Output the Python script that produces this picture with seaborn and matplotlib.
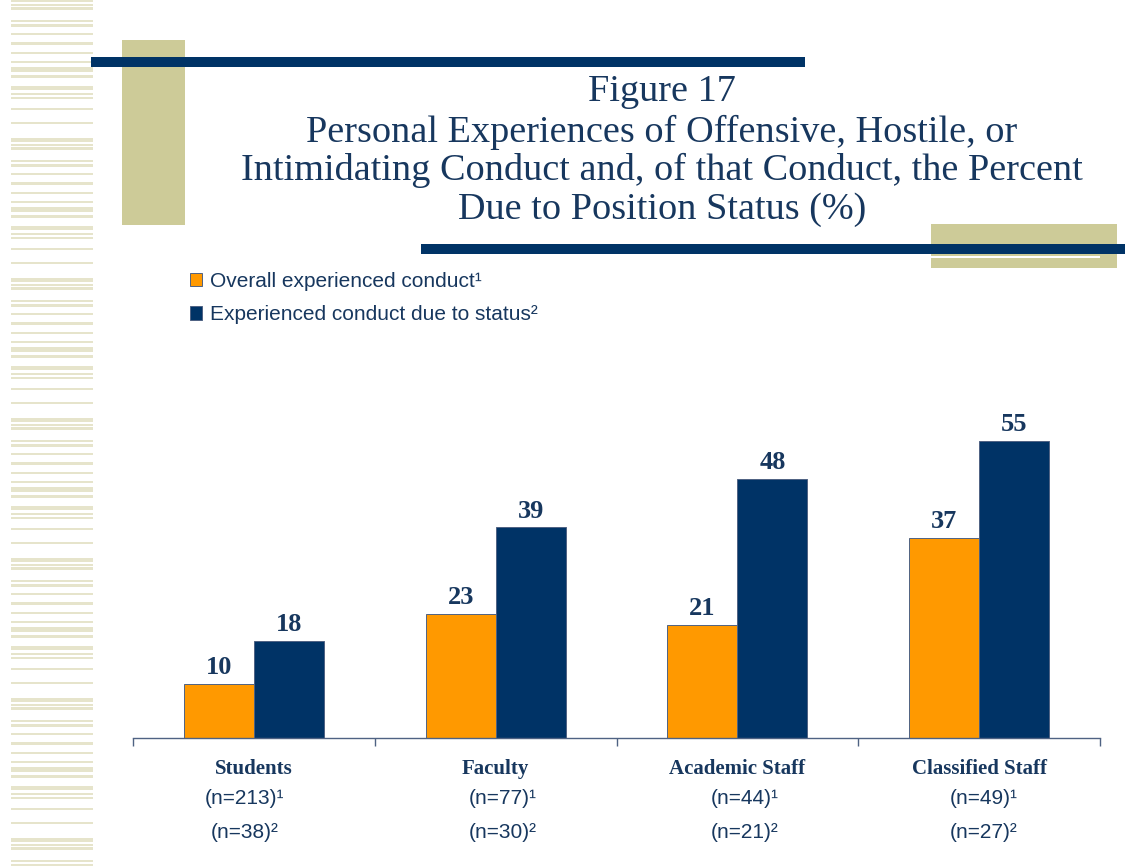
import matplotlib
matplotlib.use("Agg")
import matplotlib.pyplot as plt
from matplotlib.patches import Rectangle
import seaborn as sns
import pandas as pd

categories = ["Students", "Faculty", "Academic Staff", "Classified Staff"]
overall = [10, 23, 21, 37]
due_status = [18, 39, 48, 55]
series_names = ["Overall experienced conduct\u00b9", "Experienced conduct due to status\u00b2"]
n_overall = ["(n=213)\u00b9", "(n=77)\u00b9", "(n=44)\u00b9", "(n=49)\u00b9"]
n_status = ["(n=38)\u00b2", "(n=30)\u00b2", "(n=21)\u00b2", "(n=27)\u00b2"]
title_lines = ["Figure 17",
               "Personal Experiences of Offensive, Hostile, or",
               "Intimidating Conduct and, of that Conduct, the Percent",
               "Due to Position Status (%)"]

NAVY = "#003366"
ORANGE = "#FF9900"
TEXT = "#17375E"
KHAKI = "#CDCB98"
STRIPE = "#E6E4CB"

df = pd.DataFrame({
    "category": categories * 2,
    "value": overall + due_status,
    "series": [series_names[0]] * 4 + [series_names[1]] * 4,
})

sns.set_theme(style="white")
plt.rcParams["font.family"] = ["Liberation Sans", "DejaVu Sans"]

W, H = 1125, 866
fig = plt.figure(figsize=(W / 100, H / 100), dpi=100)
fig.patch.set_facecolor("white")

def rect(x0, y0, x1, y1, color, z=0):
    fig.add_artist(Rectangle((x0 / W, 1 - y1 / H), (x1 - x0) / W, (y1 - y0) / H,
                             transform=fig.transFigure, facecolor=color,
                             edgecolor="none", zorder=z))

# left striped decoration
period = [(0, 4), (6, 8), (9, 12), (22, 24), (26, 29), (35, 37), (44, 47), (54, 56),
          (63, 65), (69, 74), (77, 80), (88, 92), (95, 97), (99, 101), (110, 112), (124, 126)]
start = -2
while start < H:
    for a, b in period:
        if start + a < H:
            rect(11, start + a, 93, min(start + b, H), STRIPE)
    start += 140

# title decorations
rect(122, 40, 185, 225, KHAKI)
rect(91, 57, 805, 67, NAVY, 2)
rect(931, 224, 1117, 268, KHAKI)
rect(931, 256, 1100, 257.5, "white", 1)
rect(421, 244, 1125, 254, NAVY, 2)

for i, (line, yc) in enumerate(zip(title_lines, [92, 132, 170, 210])):
    fig.text(662 / W, 1 - yc / H, line, ha="center", va="center",
             fontsize=27.5, family="Liberation Serif", color=TEXT)

# axes
left, right, base = 133, 1100, 738
ymax = 60
ppu = 5.4
top = base - ymax * ppu
ax = fig.add_axes([left / W, 1 - base / H, (right - left) / W, (base - top) / H])
ax.set_facecolor("none")

sns.barplot(data=df, x="category", y="value", hue="series", order=categories,
            hue_order=series_names, palette=[ORANGE, NAVY], width=0.58,
            saturation=1, edgecolor="#4F6283", linewidth=0.7, ax=ax)

ax.set_xlim(-0.5, 3.5)
ax.set_ylim(0, ymax)
for s in ["top", "right", "left"]:
    ax.spines[s].set_visible(False)
ax.spines["bottom"].set_color("#4F6283")
ax.spines["bottom"].set_linewidth(1.0)
ax.set_yticks([])
ax.set_xticks([-0.5, 0.5, 1.5, 2.5, 3.5])
ax.set_xticklabels([])
ax.tick_params(axis="x", direction="out", length=6, width=1, color="#4F6283", bottom=True)
ax.set_xlabel("")
ax.set_ylabel("")

for cont in ax.containers:
    ax.bar_label(cont, fmt="%d", padding=3.5, fontsize=19, fontweight="bold",
                 family="Liberation Serif", color=TEXT)

offsets = [-0.04, 0.03, 0.03, 0.02]
for i, cat in enumerate(categories):
    ax.text(i, -31 / ppu, cat, ha="center", va="center", fontsize=15,
            fontweight="bold", family="Liberation Serif", color=TEXT)
    ax.text(i + offsets[i], -60 / ppu, n_overall[i], ha="center", va="center",
            fontsize=15, color=TEXT)
    ax.text(i + offsets[i], -95 / ppu, n_status[i], ha="center", va="center",
            fontsize=15, color=TEXT)

handles, labels = ax.get_legend_handles_labels()
if ax.get_legend() is not None:
    ax.get_legend().remove()
fig.legend(handles, labels, loc="upper left", bbox_to_anchor=(171 / W, 1 - 253 / H),
           frameon=False, fontsize=15, handlelength=0.6, handleheight=0.6,
           handletextpad=0.35, labelspacing=0.7, labelcolor=TEXT)

fig.savefig("out.png", dpi=100, facecolor="white")
